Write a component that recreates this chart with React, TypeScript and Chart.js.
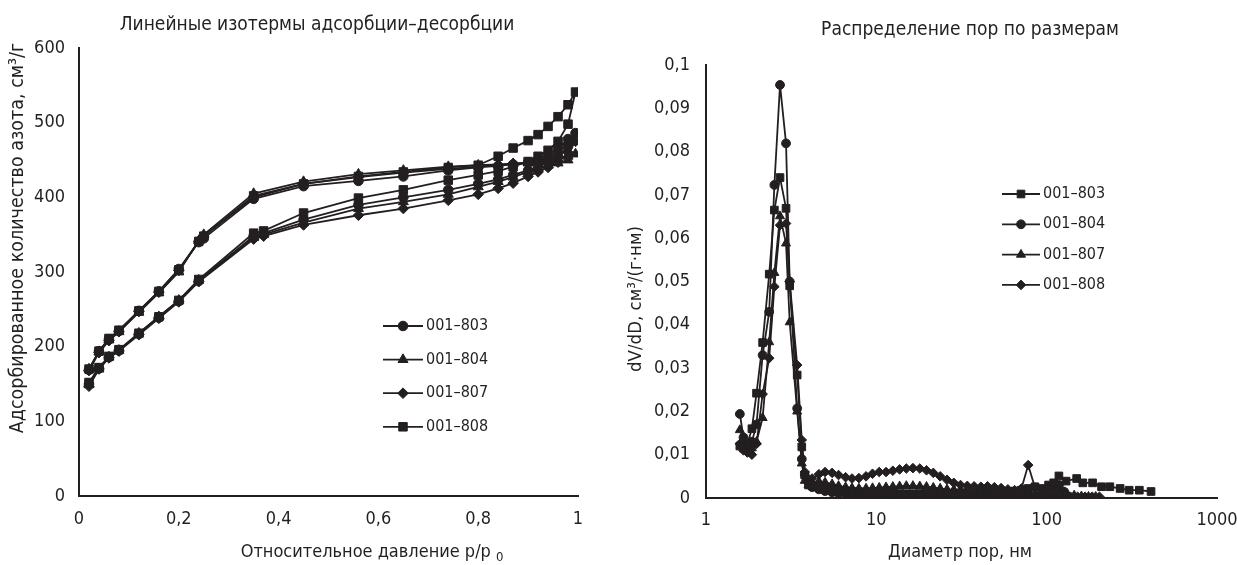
import React, { useEffect, useRef } from 'react';
import { Chart, registerables } from 'chart.js';
import { drawPoint } from 'chart.js/helpers';

Chart.register(...registerables);

const INK = '#231f20';
const FONT = '"Liberation Sans Narrow", "Arial Narrow", "DejaVu Sans Condensed", sans-serif';

// ---------- Left chart: isotherms ----------
const isoLabels = ['001–803', '001–804', '001–807', '001–808'];
const isoStyles = ['circle', 'triangle', 'rectRot', 'rect'];
const isoRadius = [4.8, 5.8, 5.3, 6];

const adsorptionP = [0.02, 0.04, 0.06, 0.08, 0.12, 0.16, 0.20, 0.24, 0.35, 0.37, 0.45, 0.56, 0.65, 0.74, 0.80, 0.84, 0.87, 0.90, 0.92, 0.94, 0.96, 0.98, 0.995];
const desorptionP = [0.98, 0.96, 0.94, 0.92, 0.90, 0.87, 0.84, 0.80, 0.74, 0.65, 0.56, 0.45, 0.35, 0.25, 0.24, 0.20, 0.16, 0.12, 0.08, 0.06, 0.04, 0.02];

const ads803 = [150, 171, 186, 195, 217, 239, 261, 288, 348, 352, 370, 390, 400, 410, 418, 424, 430, 436, 441, 447, 455, 468, 486];
const des803 = [478, 466, 457, 451, 447, 444, 442, 440, 436, 428, 422, 415, 398, 345, 340, 304, 274, 248, 221, 210, 194, 169];
const ads804 = [149, 170, 186, 195, 218, 240, 262, 289, 346, 350, 366, 385, 394, 404, 414, 421, 427, 434, 439, 443, 446, 450, 458];
const des804 = [455, 452, 450, 448, 446, 445, 444, 443, 441, 436, 431, 421, 405, 350, 342, 300, 272, 246, 220, 209, 193, 170];
const ads807 = [147, 170, 185, 194, 216, 238, 260, 287, 344, 348, 363, 376, 385, 396, 404, 412, 419, 428, 434, 440, 447, 460, 475];
const des807 = [470, 460, 452, 448, 446, 445, 443, 441, 438, 433, 427, 418, 400, 348, 341, 302, 273, 247, 220, 208, 192, 168];
const ads808 = [152, 172, 187, 196, 218, 240, 262, 290, 352, 355, 379, 399, 410, 423, 430, 435, 441, 448, 455, 463, 475, 498, 541];
const des808 = [524, 508, 495, 484, 476, 466, 455, 443, 440, 434, 428, 418, 402, 348, 341, 303, 274, 248, 222, 211, 194, 170];

const isoXTicks = [0, 0.2, 0.4, 0.6, 0.8, 1];
const isoXTickLabels = ['0', '0,2', '0,4', '0,6', '0,8', '1'];
const isoYTicks = [0, 100, 200, 300, 400, 500, 600];
const isoYTickLabels = ['0', '100', '200', '300', '400', '500', '600'];

// ---------- Right chart: pore size distribution ----------
const psdLabels = ['001–803', '001–804', '001–807', '001–808'];
const psdStyles = ['rect', 'circle', 'triangle', 'rectRot'];
const psdRadius = [5.4, 4.4, 5.2, 4.8];

const poreDiameter = [1.58, 1.66, 1.75, 1.86, 1.98, 2.15, 2.35, 2.52, 2.72, 2.95, 3.1, 3.43, 3.65, 3.8, 4.0,
  4.2, 4.6, 5.0, 5.5, 6.0, 6.6, 7.2, 7.9, 8.7, 9.5, 10.4, 11.4, 12.5, 13.7, 15.0, 16.4, 18.0, 19.7, 21.6, 23.7,
  26.0, 28.5, 31.2, 34.2, 37.5, 41.1, 45.0, 49.3, 54.0, 59.2, 64.9, 71.1, 77.9, 85.4, 93.6, 102.6];

const psd803 = [0.012, 0.0115, 0.0125, 0.016, 0.0242, 0.0359, 0.0517, 0.0665, 0.074, 0.0669, 0.049, 0.0284, 0.0118, 0.0053, 0.003,
  0.0028, 0.0025, 0.0022, 0.002, 0.0018, 0.0016, 0.0015, 0.0014, 0.0013, 0.0012,
  0.0012, 0.0011, 0.0011, 0.001, 0.001, 0.001, 0.001, 0.001, 0.001, 0.001,
  0.001, 0.0011, 0.0011, 0.0012, 0.0012, 0.0013, 0.0013, 0.0014, 0.0014, 0.0015,
  0.0016, 0.0018, 0.0022, 0.0026, 0.0022, 0.003];
const psd803ExtD = [110, 118, 130, 150, 163, 186, 210, 235, 270, 305, 350, 410];
const psd803ExtV = [0.0035, 0.0051, 0.0039, 0.0045, 0.0035, 0.0035, 0.0026, 0.0026, 0.0022, 0.0018, 0.0018, 0.0015];

const psd804 = [0.0194, 0.014, 0.0125, 0.013, 0.017, 0.033, 0.043, 0.0723, 0.0954, 0.0819, 0.05, 0.0207, 0.009, 0.0053, 0.0035,
  0.0025, 0.002, 0.0016, 0.0013, 0.0011, 0.001, 0.0009, 0.0008, 0.0007, 0.0006,
  0.0005, 0.0004, 0.0004, 0.0003, 0.0003, 0.0003, 0.0003, 0.0003, 0.0003, 0.0003,
  0.0003, 0.0003, 0.0003, 0.0003, 0.0003, 0.0003, 0.0003, 0.0003, 0.0003, 0.0003,
  0.0003, 0.0003, 0.0003, 0.0004, 0.0005, 0.0012];
const psd804ExtD = [110, 118, 126];
const psd804ExtV = [0.0025, 0.003, 0.0015];

const psd807 = [0.0157, 0.0135, 0.012, 0.0115, 0.013, 0.0185, 0.036, 0.052, 0.0651, 0.0588, 0.0406, 0.02, 0.008, 0.004, 0.003,
  0.0035, 0.0038, 0.0036, 0.0032, 0.0028, 0.0025, 0.0023, 0.0022, 0.0022, 0.0023,
  0.0024, 0.0025, 0.0026, 0.0027, 0.0028, 0.0028, 0.0027, 0.0026, 0.0024, 0.0022,
  0.002, 0.0019, 0.0019, 0.002, 0.002, 0.0021, 0.0021, 0.002, 0.0018, 0.0016,
  0.0014, 0.0013, 0.0012, 0.0011, 0.0012, 0.0015];
const psd807ExtD = [110, 120, 132, 145, 160, 176, 194];
const psd807ExtV = [0.0022, 0.0016, 0.001, 0.0006, 0.0004, 0.0003, 0.0003];

const psd808 = [0.0125, 0.011, 0.0105, 0.01, 0.0125, 0.024, 0.0323, 0.0488, 0.063, 0.0634, 0.05, 0.0307, 0.0134, 0.006, 0.0042,
  0.0045, 0.0055, 0.006, 0.0058, 0.0053, 0.0048, 0.0045, 0.0046, 0.005, 0.0056,
  0.006, 0.006, 0.0063, 0.0066, 0.0068, 0.0069, 0.0068, 0.0064, 0.0058, 0.005,
  0.0042, 0.0035, 0.003, 0.0028, 0.0027, 0.0026, 0.0027, 0.0025, 0.0023, 0.002,
  0.0018, 0.0022, 0.0076, 0.0024, 0.0012, 0.0008];
const psd808ExtD = [112, 124, 138, 152, 168, 185, 204];
const psd808ExtV = [0.0006, 0.0004, 0.0003, 0.0003, 0.0003, 0.0003, 0.0003];

const psdXTicks = [1, 10, 100, 1000];
const psdXTickLabels = ['1', '10', '100', '1000'];
const psdYTicks = [0, 0.01, 0.02, 0.03, 0.04, 0.05, 0.06, 0.07, 0.08, 0.09, 0.1];
const psdYTickLabels = ['0', '0,01', '0,02', '0,03', '0,04', '0,05', '0,06', '0,07', '0,08', '0,09', '0,1'];

// ---------- helpers ----------
function pts(xs: number[], ys: number[]) {
  const n = Math.min(xs.length, ys.length);
  const out: { x: number; y: number }[] = [];
  for (let i = 0; i < n; i++) out.push({ x: xs[i], y: ys[i] });
  return out;
}

const textPlugin = {
  id: 'textItems',
  afterDraw(chart: any, _args: any, opts: any) {
    const ctx = chart.ctx as CanvasRenderingContext2D;
    for (const it of opts.items || []) {
      ctx.save();
      ctx.fillStyle = INK;
      ctx.textBaseline = 'middle';
      const mainFont = `${it.size}px ${FONT}`;
      const subFont = `${Math.round(it.size * 0.72)}px ${FONT}`;
      ctx.font = mainFont;
      const w1 = ctx.measureText(it.text).width;
      let w2 = 0;
      if (it.sub) {
        ctx.font = subFont;
        w2 = ctx.measureText(it.sub).width + 5;
      }
      const total = w1 + w2;
      ctx.translate(it.x, it.y);
      if (it.rotate) ctx.rotate(-Math.PI / 2);
      ctx.textAlign = 'left';
      ctx.font = mainFont;
      ctx.fillText(it.text, -total / 2, 0);
      if (it.sub) {
        ctx.font = subFont;
        ctx.fillText(it.sub, -total / 2 + w1 + 5, it.size * 0.3);
      }
      ctx.restore();
    }
  },
};

const lineLegendPlugin = {
  id: 'lineLegend',
  afterDatasetsDraw(chart: any, _args: any, opts: any) {
    const ctx = chart.ctx as CanvasRenderingContext2D;
    chart.data.datasets.forEach((ds: any, i: number) => {
      const cy = opts.y + i * opts.rowGap;
      ctx.save();
      ctx.strokeStyle = INK;
      ctx.fillStyle = INK;
      ctx.lineWidth = 1.8;
      ctx.beginPath();
      ctx.moveTo(opts.x, cy);
      ctx.lineTo(opts.x + opts.lineLen, cy);
      ctx.stroke();
      ctx.lineWidth = 1;
      drawPoint(ctx, { pointStyle: ds.pointStyle, radius: ds.pointRadius, borderWidth: 1, rotation: 0 } as any, opts.x + opts.lineLen / 2, cy);
      ctx.font = `${opts.size}px ${FONT}`;
      ctx.textBaseline = 'middle';
      ctx.textAlign = 'left';
      ctx.fillText(ds.label, opts.x + opts.lineLen + opts.textGap, cy);
      ctx.restore();
    });
  },
};

function mkDataset(label: string, style: string, radius: number, data: any[]) {
  return {
    label,
    data,
    showLine: true,
    borderColor: INK,
    backgroundColor: INK,
    borderWidth: 1.8,
    pointStyle: style,
    pointRadius: radius,
    pointBackgroundColor: INK,
    pointBorderColor: INK,
    pointBorderWidth: 1,
    tension: 0,
  };
}

const tickFont = { family: FONT, size: 18 };

function zeroHPad(s: any) {
  s.paddingLeft = 0;
  s.paddingRight = 0;
}
function zeroVPad(s: any) {
  s.paddingTop = 0;
  s.paddingBottom = 0;
}

export default function App() {
  const leftRef = useRef<HTMLCanvasElement>(null);
  const rightRef = useRef<HTMLCanvasElement>(null);

  useEffect(() => {
    const isoAds = [ads803, ads804, ads807, ads808];
    const isoDes = [des803, des804, des807, des808];
    const leftChart = new Chart(leftRef.current as HTMLCanvasElement, {
      type: 'scatter',
      data: {
        datasets: isoLabels.map((l, i) =>
          mkDataset(l, isoStyles[i], isoRadius[i], [...pts(adsorptionP, isoAds[i]), ...pts(desorptionP, isoDes[i])])
        ),
      },
      options: {
        animation: false,
        responsive: false,
        layout: { padding: { left: 0, right: 22, top: 48, bottom: 0 } },
        plugins: {
          legend: { display: false },
          tooltip: { enabled: false },
          title: { display: false },
          lineLegend: { x: 383, y: 326, rowGap: 33.6, lineLen: 40, textGap: 3, size: 16 },
          textItems: {
            items: [
              { text: 'Линейные изотермы адсорбции–десорбции', x: 317, y: 25, size: 19 },
              { text: 'Относительное давление p/p', sub: '0', x: 372, y: 552, size: 18 },
              { text: 'Адсорбированное количество азота, см³/г', x: 18, y: 238, size: 19.5, rotate: true },
            ],
          },
        } as any,
        scales: {
          x: {
            type: 'linear',
            min: 0,
            max: 1,
            grid: { display: false, drawTicks: false },
            border: { display: true, color: INK, width: 2 },
            ticks: {
              padding: 13,
              color: INK,
              font: tickFont,
              callback: (_v: any, i: number) => isoXTickLabels[i],
            },
            afterBuildTicks: (s: any) => { s.ticks = isoXTicks.map((v) => ({ value: v })); },
            afterFit: (s: any) => { s.height = 69; zeroHPad(s); },
          },
          y: {
            type: 'linear',
            min: 0,
            max: 600,
            grid: { display: false, drawTicks: false },
            border: { display: true, color: INK, width: 2 },
            ticks: {
              padding: 14,
              color: INK,
              font: tickFont,
              callback: (_v: any, i: number) => isoYTickLabels[i],
            },
            afterBuildTicks: (s: any) => { s.ticks = isoYTicks.map((v) => ({ value: v })); },
            afterFit: (s: any) => { s.width = 79; zeroVPad(s); },
          },
        } as any,
      },
      plugins: [textPlugin, lineLegendPlugin] as any,
    });

    const psdVals = [psd803, psd804, psd807, psd808];
    const psdExtD = [psd803ExtD, psd804ExtD, psd807ExtD, psd808ExtD];
    const psdExtV = [psd803ExtV, psd804ExtV, psd807ExtV, psd808ExtV];
    const rightChart = new Chart(rightRef.current as HTMLCanvasElement, {
      type: 'scatter',
      data: {
        datasets: psdLabels.map((l, i) =>
          mkDataset(l, psdStyles[i], psdRadius[i], [...pts(poreDiameter, psdVals[i]), ...pts(psdExtD[i], psdExtV[i])])
        ),
      },
      options: {
        animation: false,
        responsive: false,
        layout: { padding: { left: 0, right: 20, top: 65, bottom: 0 } },
        plugins: {
          legend: { display: false },
          tooltip: { enabled: false },
          title: { display: false },
          lineLegend: { x: 402, y: 194, rowGap: 30.3, lineLen: 38, textGap: 3, size: 16 },
          textItems: {
            items: [
              { text: 'Распределение пор по размерам', x: 370, y: 30, size: 19 },
              { text: 'Диаметр пор, нм', x: 360, y: 552, size: 18 },
              { text: 'dV/dD, см³/(г·нм)', x: 36, y: 299, size: 18.5, rotate: true },
            ],
          },
        } as any,
        scales: {
          x: {
            type: 'logarithmic',
            min: 1,
            max: 1000,
            grid: { display: false, drawTicks: false },
            border: { display: true, color: INK, width: 2 },
            ticks: {
              padding: 12,
              color: INK,
              font: tickFont,
              callback: (_v: any, i: number) => psdXTickLabels[i],
            },
            afterBuildTicks: (s: any) => { s.ticks = psdXTicks.map((v) => ({ value: v })); },
            afterFit: (s: any) => { s.height = 67; zeroHPad(s); },
          },
          y: {
            type: 'linear',
            min: 0,
            max: 0.1,
            grid: { display: false, drawTicks: false },
            border: { display: true, color: INK, width: 2 },
            ticks: {
              padding: 16,
              color: INK,
              font: tickFont,
              callback: (_v: any, i: number) => psdYTickLabels[i],
            },
            afterBuildTicks: (s: any) => { s.ticks = psdYTicks.map((v) => ({ value: v })); },
            afterFit: (s: any) => { s.width = 106; zeroVPad(s); },
          },
        } as any,
      },
      plugins: [textPlugin, lineLegendPlugin] as any,
    });

    return () => {
      leftChart.destroy();
      rightChart.destroy();
    };
  }, []);

  return (
    <div style={{ position: 'fixed', left: 0, top: 0, width: 1237, height: 565, background: '#fff' }}>
      <canvas ref={leftRef} width={600} height={565} style={{ position: 'absolute', left: 0, top: 0, width: 600, height: 565 }} />
      <canvas ref={rightRef} width={637} height={565} style={{ position: 'absolute', left: 600, top: 0, width: 637, height: 565 }} />
    </div>
  );
}
